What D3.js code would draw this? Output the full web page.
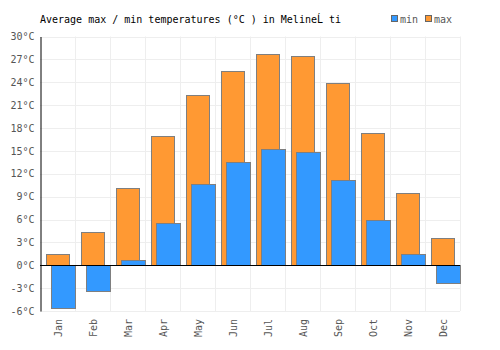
<!DOCTYPE html>
<html>
<head>
<meta charset="utf-8">
<script src="https://cdn.jsdelivr.net/npm/d3@7"></script>
<style>
  body { margin: 0; background: #fff; }
  text { font-family: "DejaVu Sans Mono", monospace; }
</style>
</head>
<body>
<div id="chart"></div>
<script>
// chart data
const months = ['Jan', 'Feb', 'Mar', 'Apr', 'May', 'Jun', 'Jul', 'Aug', 'Sep', 'Oct', 'Nov', 'Dec'];
const maxTemps = [1.5, 4.3, 10.1, 17.0, 22.3, 25.5, 27.7, 27.4, 23.9, 17.4, 9.5, 3.6];
const minTemps = [-5.6, -3.4, 0.7, 5.6, 10.6, 13.6, 15.3, 14.9, 11.2, 6.0, 1.5, -2.3];
const yTicks = [-6, -3, 0, 3, 6, 9, 12, 15, 18, 21, 24, 27, 30];
const title = 'Average max / min temperatures (°C ) in MelineĹ ti';

const width = 500, height = 350;
const margin = { top: 36.5, right: 40, bottom: 39, left: 40 };

const svg = d3.select('#chart')
  .append('svg')
  .attr('width', width)
  .attr('height', height);

// Scales
const x = d3.scaleBand().domain(months).range([margin.left, width - margin.right]);
const y = d3.scaleLinear().domain([-6, 30]).range([height - margin.bottom, margin.top]);

// Gridlines
svg.append('g')
  .selectAll('line')
  .data(yTicks)
  .enter()
  .append('line')
  .attr('x1', margin.left)
  .attr('x2', width - margin.right)
  .attr('y1', (d) => Math.round(y(d)) + 0.5)
  .attr('y2', (d) => Math.round(y(d)) + 0.5)
  .attr('stroke', '#eeeeee');

svg.append('g')
  .selectAll('line')
  .data(months.slice(1).concat(['end']))
  .enter()
  .append('line')
  .attr('x1', (d) => Math.round(d === 'end' ? x.range()[1] : x(d)) + 0.5)
  .attr('x2', (d) => Math.round(d === 'end' ? x.range()[1] : x(d)) + 0.5)
  .attr('y1', margin.top)
  .attr('y2', height - margin.bottom)
  .attr('stroke', '#eeeeee');

// Y axis
const yAxis = svg.append('g')
  .attr('transform', `translate(${margin.left + 0.5},0)`)
  .call(d3.axisLeft(y).tickValues(yTicks).tickSize(0).tickPadding(6).tickFormat((d) => `${d}°C`));
yAxis.select('.domain').attr('stroke', '#000');
yAxis.selectAll('text')
  .style('font-family', '"DejaVu Sans Mono", monospace')
  .style('font-size', '10px')
  .style('fill', '#555');

// X axis labels
const xAxis = svg.append('g')
  .attr('transform', `translate(0,${height - margin.bottom})`)
  .call(d3.axisBottom(x).tickSize(0).tickPadding(0));
xAxis.select('.domain').remove();
xAxis.selectAll('text')
  .style('font-family', '"DejaVu Sans Mono", monospace')
  .style('font-size', '10px')
  .style('fill', '#555')
  .attr('transform', 'rotate(-90)')
  .attr('x', -8)
  .attr('y', 1)
  .attr('dy', '0.35em')
  .style('text-anchor', 'end');

// Bars: max first, min on top
const barW = 24;
svg.append('g')
  .selectAll('rect')
  .data(maxTemps)
  .enter()
  .append('rect')
  .attr('x', (d, i) => Math.round(x(months[i])) + 6.5)
  .attr('y', (d) => Math.round(y(Math.max(0, d))) + 0.5)
  .attr('width', barW - 1)
  .attr('height', (d) => Math.abs(Math.round(y(d)) - Math.round(y(0))))
  .attr('fill', '#ff9933')
  .attr('stroke', '#7f7f7f');

svg.append('g')
  .selectAll('rect')
  .data(minTemps)
  .enter()
  .append('rect')
  .attr('x', (d, i) => Math.round(x(months[i])) + 11.5)
  .attr('y', (d) => Math.round(y(Math.max(0, d))) + 0.5)
  .attr('width', barW)
  .attr('height', (d) => Math.abs(Math.round(y(d)) - Math.round(y(0))))
  .attr('fill', '#3399ff')
  .attr('stroke', '#7f7f7f');

// Zero line
svg.append('line')
  .attr('x1', margin.left)
  .attr('x2', width - margin.right)
  .attr('y1', Math.round(y(0)) + 0.5)
  .attr('y2', Math.round(y(0)) + 0.5)
  .attr('stroke', '#000');

// Title
svg.append('text')
  .attr('x', 40)
  .attr('y', 23)
  .style('font-size', '10px')
  .style('fill', '#000')
  .text(title);

// Legend
const legend = [
  { name: 'min', color: '#3399ff', x: 391 },
  { name: 'max', color: '#ff9933', x: 425 },
];
const lg = svg.append('g')
  .selectAll('g')
  .data(legend)
  .enter()
  .append('g')
  .attr('transform', (d) => `translate(${d.x},0)`);
lg.append('rect')
  .attr('x', 0.5)
  .attr('y', 15.5)
  .attr('width', 6)
  .attr('height', 6)
  .attr('fill', (d) => d.color)
  .attr('stroke', '#666');
lg.append('text')
  .attr('x', 9)
  .attr('y', 23)
  .style('font-size', '10px')
  .style('fill', '#555')
  .text((d) => d.name);
</script>
</body>
</html>
